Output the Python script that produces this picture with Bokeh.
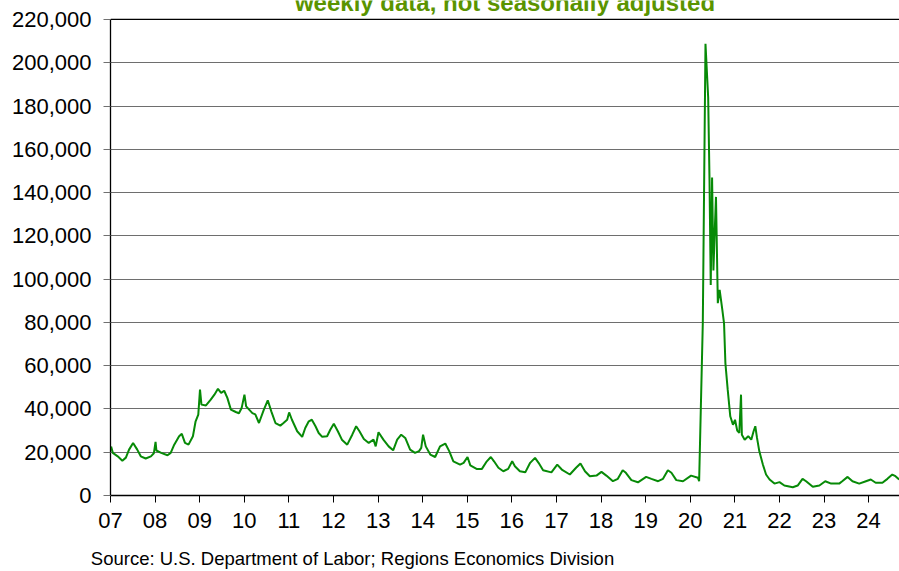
import pandas as pd
from bokeh.plotting import figure
from bokeh.models import (FixedTicker, DatetimeTickFormatter, NumeralTickFormatter,
                          Range1d, Label, Span, ColumnDataSource, LinearAxis)
from bokeh.embed import file_html
from bokeh.resources import INLINE

# ---------------- data ----------------
dates = [
    "2007-01-06", "2007-01-20", "2007-03-01", "2007-04-08", "2007-05-07", "2007-06-02",
    "2007-07-05", "2007-08-08", "2007-09-06", "2007-10-16", "2007-11-28", "2007-12-22",
    "2008-01-05", "2008-01-12", "2008-02-20", "2008-04-12", "2008-05-08", "2008-06-06",
    "2008-07-16", "2008-08-07", "2008-09-02", "2008-10-01", "2008-11-06", "2008-11-28",
    "2008-12-20", "2009-01-03", "2009-01-15", "2009-02-21", "2009-04-01", "2009-05-01",
    "2009-05-30", "2009-06-25", "2009-07-20", "2009-08-15", "2009-09-13", "2009-10-23",
    "2009-11-18", "2009-12-10", "2010-01-02", "2010-01-16", "2010-03-08", "2010-04-01",
    "2010-05-01", "2010-06-10", "2010-07-12", "2010-08-10", "2010-09-13", "2010-10-23",
    "2010-11-18", "2010-12-18", "2011-01-03", "2011-01-26", "2011-03-10", "2011-04-20",
    "2011-05-15", "2011-06-13", "2011-07-08", "2011-08-07", "2011-09-02", "2011-10-01",
    "2011-11-10", "2011-12-06", "2012-01-04", "2012-02-06", "2012-03-10", "2012-04-23",
    "2012-06-03", "2012-07-05", "2012-08-01", "2012-09-06", "2012-10-16", "2012-11-24",
    "2012-12-12", "2013-01-04", "2013-02-13", "2013-03-28", "2013-05-04", "2013-06-06",
    "2013-07-09", "2013-08-11", "2013-09-20", "2013-10-30", "2013-12-02", "2013-12-20",
    "2014-01-04", "2014-01-26", "2014-03-04", "2014-04-13", "2014-05-23", "2014-07-05",
    "2014-08-07", "2014-09-09", "2014-11-03", "2014-12-02", "2015-01-03", "2015-01-26",
    "2015-03-18", "2015-05-01", "2015-06-10", "2015-07-13", "2015-08-08", "2015-09-13",
    "2015-10-23", "2015-12-02", "2016-01-04", "2016-01-26", "2016-03-07", "2016-04-20",
    "2016-05-30", "2016-07-09", "2016-08-07", "2016-09-13", "2016-11-20", "2017-01-07",
    "2017-02-13", "2017-04-20", "2017-06-10", "2017-07-16", "2017-08-22", "2017-10-01",
    "2017-11-24", "2018-01-04", "2018-02-13", "2018-04-08", "2018-05-18", "2018-06-27",
    "2018-07-23", "2018-09-06", "2018-10-30", "2019-01-05", "2019-02-17", "2019-04-13",
    "2019-05-23", "2019-07-02", "2019-07-31", "2019-09-09", "2019-11-03", "2020-01-08",
    "2020-03-04", "2020-03-14", "2020-04-13", "2020-05-05", "2020-05-27", "2020-06-07",
    "2020-06-17", "2020-06-28", "2020-07-09", "2020-07-20", "2020-07-30", "2020-08-14",
    "2020-08-29", "2020-09-20", "2020-10-04", "2020-10-15", "2020-11-03", "2020-11-24",
    "2020-12-16", "2021-01-02", "2021-01-20", "2021-02-06", "2021-02-20", "2021-02-27",
    "2021-03-22", "2021-04-20", "2021-05-15", "2021-06-03", "2021-06-17", "2021-07-01",
    "2021-07-20", "2021-08-18", "2021-09-13", "2021-10-12", "2021-11-21", "2022-01-01",
    "2022-02-10", "2022-04-20", "2022-05-30", "2022-07-09", "2022-08-07", "2022-10-01",
    "2022-11-24", "2023-01-11", "2023-02-28", "2023-05-05", "2023-05-30", "2023-07-13",
    "2023-08-22", "2023-10-16", "2023-12-10", "2024-01-19", "2024-02-28", "2024-04-23",
    "2024-06-03", "2024-07-13", "2024-08-08", "2024-09-07",
]
claims = [
    22700, 19700, 18100, 16100, 17500, 21200,
    24300, 21200, 18100, 17100, 18100, 19500,
    24800, 20800, 19700, 18600, 19700, 23500,
    27400, 28500, 24300, 23500, 27400, 34300,
    37400, 48900, 42000, 41600, 44300, 46600,
    49300, 47400, 48400, 45100, 39700, 38600,
    38000, 40400, 46600, 41200, 38100, 37500,
    33500, 39700, 44000, 38900, 33500, 32300,
    33500, 35000, 38400, 35000, 29700, 27100,
    31200, 34300, 35000, 32000, 28900, 27100,
    27400, 30400, 33200, 29700, 25800, 23500,
    28100, 32000, 29700, 26100, 24300, 25800,
    22700, 29200, 25800, 22700, 20900, 25800,
    28100, 26600, 21200, 19700, 20500, 22000,
    28100, 22700, 18900, 17800, 22700, 24000,
    20400, 15800, 14300, 15100, 17800, 13900,
    12300, 12300, 15800, 17800, 15800, 12800,
    11200, 12300, 15800, 13500, 11200, 10700,
    15100, 17400, 15100, 11700, 10700, 14300,
    12000, 9700, 12800, 14800, 11200, 8900,
    9200, 10900, 9200, 6600, 7700, 11700,
    10500, 7100, 6100, 8600, 7700, 6600,
    7700, 11700, 10500, 7100, 6600, 9200,
    8200, 6600, 79600, 208800, 184000, 145700,
    97300, 147000, 104000, 122700, 138000, 88900,
    95000, 85800, 79600, 61200, 48900, 36600,
    32700, 35000, 30000, 28900, 46600, 28100,
    25800, 27400, 25800, 29700, 32000, 26600,
    20400, 14300, 9700, 7400, 5500, 6200,
    4600, 3800, 4600, 7700, 6600, 4000,
    4600, 6600, 5500, 5500, 6600, 8600,
    6600, 5500, 6600, 7400, 5900, 5900,
    7700, 9700, 8900, 7400,
]
year_ticks = list(range(2007, 2025))
y_ticks = list(range(0, 220001, 20000))
title_text = "weekly data, not seasonally adjusted"
source_text = "Source: U.S. Department of Labor; Regions Economics Division"

# ---------------- layout constants ----------------
W, H = 899, 571
LEFT, BOTTOM = 110, 75
PLOT_TOP = 19                      # pixel row of the 220,000 line
FRAME_W = W - LEFT
FRAME_H = H - BOTTOM               # frame runs up to the canvas top
y_max = 220000
val_per_px = y_max / (FRAME_H - PLOT_TOP)
y_top = y_max + PLOT_TOP * val_per_px

x_start = pd.Timestamp("2007-01-01")
x_end = pd.Timestamp("2024-09-10")
ms = lambda t: pd.Timestamp(t).value / 1e6
xs, xe = ms(x_start), ms(x_end)

src = ColumnDataSource(dict(x=pd.to_datetime(dates), y=claims))

p = figure(width=W, height=H, x_axis_type="datetime", output_backend="svg",
           toolbar_location=None, tools="",
           x_range=Range1d(xs, xe), y_range=Range1d(0, y_top),
           min_border_left=LEFT, min_border_right=0,
           min_border_top=0, min_border_bottom=BOTTOM)
p.outline_line_color = None
p.background_fill_color = "white"
p.border_fill_color = "white"

# grid
p.xgrid.grid_line_color = None
p.ygrid.ticker = FixedTicker(ticks=y_ticks)
p.ygrid.grid_line_color = "#6e6e6e"
p.ygrid.grid_line_width = 1.2
p.add_layout(Span(location=y_max, dimension="width", line_color="black", line_width=1.3))

p.line("x", "y", source=src, line_color="#078a07", line_width=2)

# axes
p.xaxis.ticker = FixedTicker(ticks=[ms(f"{y}-01-01") for y in year_ticks])
p.xaxis.formatter = DatetimeTickFormatter(years="%y", months="%y", days="%y",
                                          hours="%y", minutes="%y", seconds="%y",
                                          milliseconds="%y", microseconds="%y")
p.yaxis.ticker = FixedTicker(ticks=y_ticks)
p.yaxis.formatter = NumeralTickFormatter(format="0,0")
p.yaxis.bounds = (0, y_max)

for ax in (p.xaxis[0], p.yaxis[0]):
    ax.axis_line_color = "black"
    ax.axis_line_width = 1.3
    ax.major_tick_line_color = "black"
    ax.major_tick_in = 0
    ax.major_tick_out = 7
    ax.minor_tick_line_color = None
    ax.major_label_text_font = "Liberation Sans"
    ax.major_label_text_font_size = "22px"
    ax.major_label_text_color = "black"
p.yaxis.major_label_standoff = 12
p.xaxis.major_label_standoff = 10
p.yaxis.major_tick_line_color = "#707070"

# source note, drawn as the only label of a second, bare axis below
SRC_CENTER = 242
p.extra_x_ranges = {"px": Range1d(0, FRAME_W)}
src_axis = LinearAxis(x_range_name="px", ticker=FixedTicker(ticks=[SRC_CENTER]),
                      major_label_overrides={SRC_CENTER: source_text},
                      axis_line_color=None, major_tick_line_color=None,
                      minor_tick_line_color=None, major_tick_in=0, major_tick_out=0,
                      major_label_standoff=17,
                      major_label_text_font="Liberation Sans",
                      major_label_text_font_size="18.5px",
                      major_label_text_color="black")
p.add_layout(src_axis, "below")

# title (cut off at the top, centred over the plot area)
p.add_layout(Label(x=(xs + xe) / 2, y=y_max + 16.5 * val_per_px, text=title_text,
                   text_align="center", text_baseline="alphabetic",
                   text_font="Liberation Sans", text_font_style="bold",
                   text_font_size="24px", text_color="#5a9400"))

open("out.html", "w").write(file_html(p, INLINE))
